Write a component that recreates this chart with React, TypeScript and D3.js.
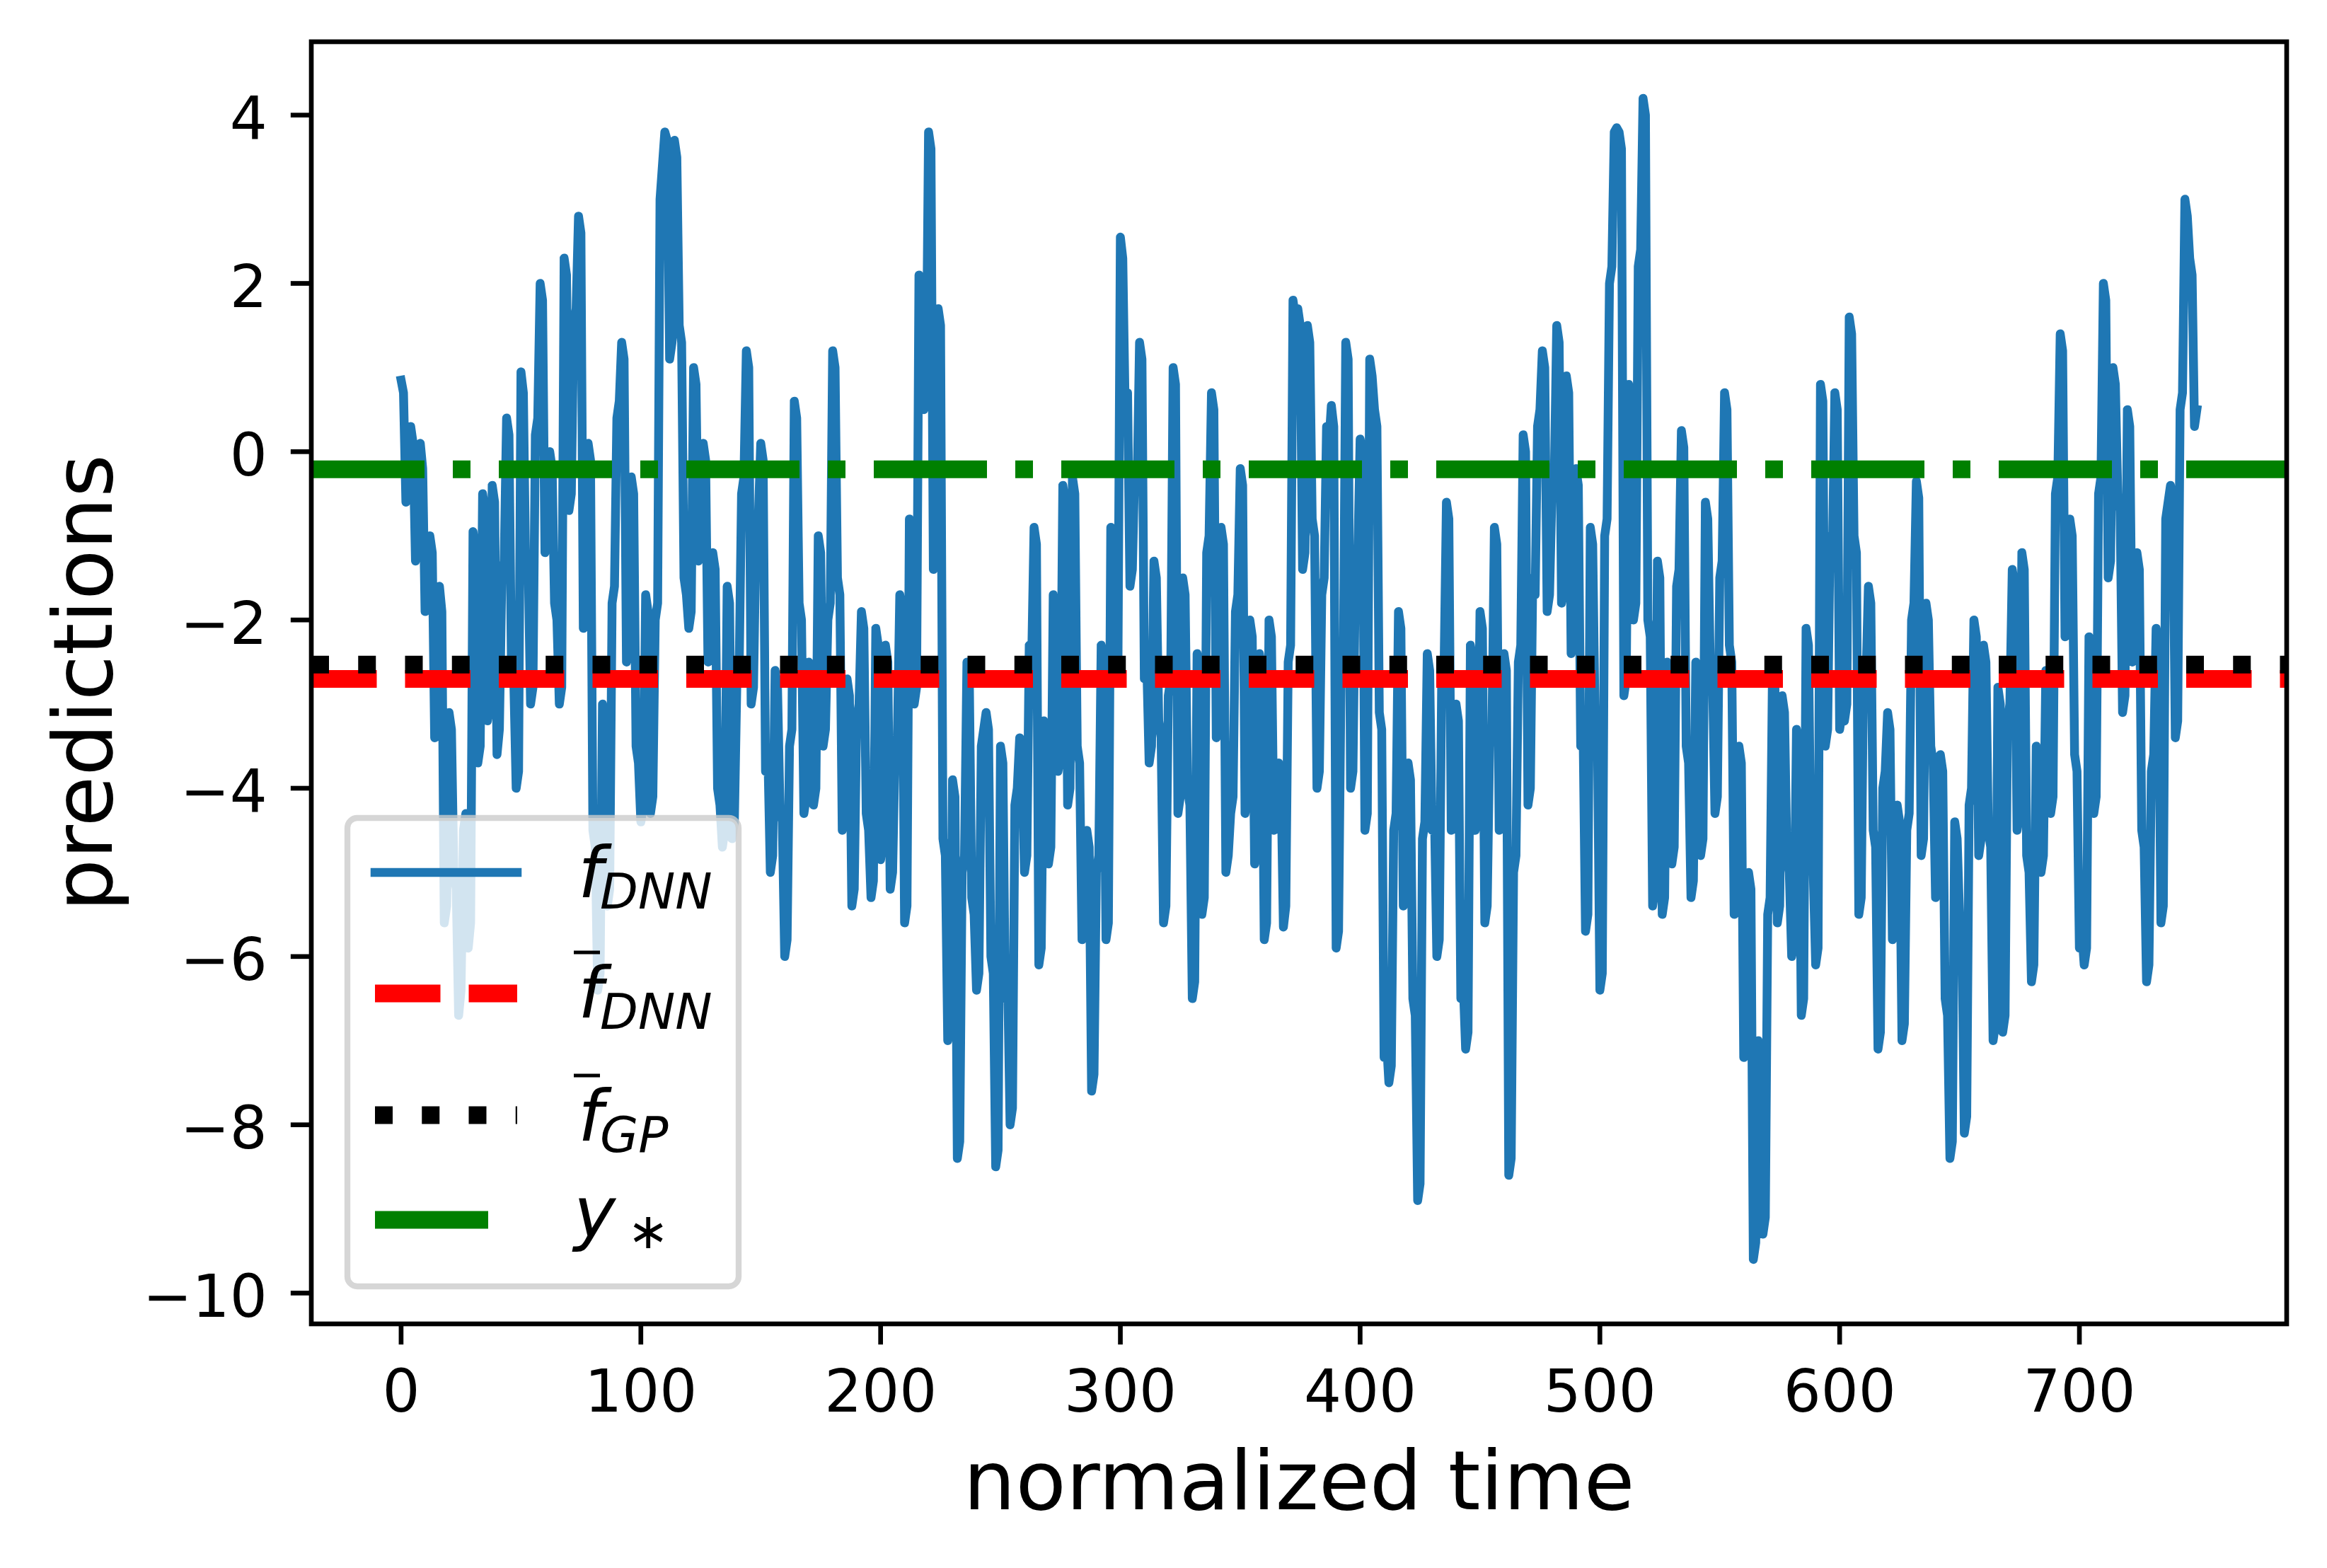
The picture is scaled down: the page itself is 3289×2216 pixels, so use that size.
import React from "react";
import * as d3 from "d3";

// one value per normalized time unit
const fDnn = [
  0.85, 0.7, -0.6, -0.4, 0.3, 0.1, -1.3, -1.1, 0.1, -0.2,
  -1.9, -1.7, -1.0, -1.2, -3.4, -3.2, -1.6, -1.9, -5.6, -5.4,
  -3.1, -3.3, -5.0, -5.2, -6.7, -6.4, -4.5, -4.3, -5.9, -5.6,
  -0.95, -1.2, -3.7, -3.5, -0.5, -0.7, -3.2, -3.0, -0.4, -0.6,
  -3.6, -3.3, -1.5, -1.3, 0.4, 0.2, -2.5, -2.7, -4.0, -3.8,
  0.95, 0.7, -1.5, -1.3, -3.0, -2.8, 0.2, 0.4, 2.0, 1.8,
  -1.2, -1.0, 0.0, -0.2, -1.8, -2.0, -3.0, -2.8, 2.3, 2.1,
  -0.7, -0.5, 1.5, 1.7, 2.8, 2.6, -2.1, -1.9, 0.1, -0.1,
  -4.5, -4.7, -6.4, -6.2, -3.0, -3.2, -5.4, -5.2, -1.8, -1.6,
  0.4, 0.6, 1.3, 1.1, -2.5, -2.3, -0.3, -0.5, -3.5, -3.7,
  -4.4, -4.2, -1.7, -1.9, -4.3, -4.1, -2.0, -1.8, 3.0, 3.4,
  3.8, 3.7, 1.1, 1.3, 3.7, 3.5, 1.5, 1.3, -1.5, -1.7,
  -2.1, -1.9, 1.0, 0.8, -1.3, -1.1, 0.1, -0.1, -2.5, -2.3,
  -1.2, -1.4, -4.0, -4.2, -4.7, -4.5, -1.6, -1.8, -4.6, -4.4,
  -2.8, -2.6, -0.5, -0.3, 1.2, 1.0, -3.0, -2.8, -1.0, -0.8,
  0.1, -0.1, -3.8, -3.6, -5.0, -4.8, -2.6, -2.8, -4.2, -4.4,
  -6.0, -5.8, -3.5, -3.3, 0.6, 0.4, -1.8, -2.0, -4.3, -4.1,
  -2.5, -2.7, -4.2, -4.0, -1.0, -1.2, -3.5, -3.3, -2.0, -1.8,
  1.2, 1.0, -1.5, -1.7, -4.5, -4.3, -2.7, -2.9, -5.4, -5.2,
  -3.2, -3.0, -1.9, -2.1, -4.3, -4.5, -5.3, -5.1, -2.1, -2.3,
  -4.85, -4.6, -2.3, -2.5, -5.2, -5.0, -3.6, -3.4, -1.7, -1.9,
  -5.6, -5.4, -0.8, -1.0, -3.0, -2.8, 2.1, 1.9, 0.5, 0.7,
  3.8, 3.6, -1.4, -1.2, 1.7, 1.5, -4.6, -4.8, -7.0, -6.8,
  -3.9, -4.1, -8.4, -8.2, -5.0, -4.8, -2.5, -2.7, -5.3, -5.5,
  -6.4, -6.2, -3.5, -3.3, -3.1, -3.3, -6.0, -6.2, -8.5, -8.3,
  -3.5, -3.7, -6.5, -6.3, -8.0, -7.8, -4.2, -4.0, -3.4, -3.6,
  -5.0, -4.8, -2.3, -2.5, -0.9, -1.1, -6.1, -5.9, -3.2, -3.4,
  -4.9, -4.7, -1.7, -1.9, -3.8, -3.6, -0.4, -0.6, -4.2, -4.0,
  -0.3, -0.5, -3.5, -3.7, -5.8, -5.6, -4.5, -4.7, -7.6, -7.4,
  -5.0, -4.8, -2.3, -2.5, -5.8, -5.6, -0.9, -1.1, -2.7, -2.5,
  2.55, 2.3, 0.5, 0.7, -1.6, -1.4, -0.2, -0.4, 1.3, 1.1,
  -2.7, -2.5, -3.7, -3.5, -1.3, -1.5, -3.2, -3.4, -5.6, -5.4,
  -2.9, -2.7, 1.0, 0.8, -4.3, -4.1, -1.5, -1.7, -4.0, -4.2,
  -6.5, -6.3, -2.4, -2.6, -5.5, -5.3, -1.2, -1.0, 0.7, 0.5,
  -3.4, -3.2, -0.9, -1.1, -5.0, -4.8, -4.3, -4.1, -1.9, -1.7,
  -0.2, -0.4, -4.3, -4.1, -2.0, -2.2, -4.9, -4.7, -2.4, -2.6,
  -5.8, -5.6, -2.0, -2.2, -4.5, -4.3, -3.7, -3.9, -5.65, -5.4,
  -2.5, -2.3, 1.8, 1.6, 1.7, 1.5, -1.4, -1.2, 1.5, 1.3,
  -0.8, -1.0, -4.0, -3.8, -1.7, -1.5, 0.3, 0.1, 0.55, 0.3,
  -5.9, -5.7, -2.8, -2.6, 1.3, 1.1, -4.0, -3.8, -1.5, -1.3,
  0.15, 0.0, -4.5, -4.3, 1.1, 0.9, 0.5, 0.3, -3.1, -3.3,
  -7.2, -7.0, -7.5, -7.3, -4.5, -4.3, -1.9, -2.1, -5.4, -5.2,
  -3.7, -3.9, -6.5, -6.7, -8.9, -8.7, -4.6, -4.4, -2.4, -2.6,
  -4.5, -4.3, -6.0, -5.8, -2.8, -2.6, -0.6, -0.8, -4.5, -4.3,
  -3.0, -3.2, -6.5, -6.3, -7.1, -6.9, -2.3, -2.5, -4.5, -4.3,
  -1.9, -2.1, -5.6, -5.4, -3.5, -3.3, -0.9, -1.1, -4.5, -4.3,
  -2.4, -2.6, -8.6, -8.4, -5.0, -4.8, -2.5, -2.3, 0.2, 0.0,
  -4.2, -4.0, -1.5, -1.7, 0.3, 0.5, 1.2, 1.0, -1.9, -1.7,
  -0.5, -0.3, 1.5, 1.3, -1.8, -1.6, 0.9, 0.7, -2.4, -2.2,
  -0.2, -0.4, -3.5, -3.3, -5.7, -5.5, -0.9, -1.1, -3.2, -3.4,
  -6.4, -6.2, -1.0, -0.8, 2.0, 2.2, 3.8, 3.85, 3.8, 3.6,
  -2.9, -2.7, 0.8, 0.6, -2.0, -1.8, 2.2, 2.4, 4.2, 4.0,
  -2.0, -2.2, -5.4, -5.2, -1.3, -1.5, -5.5, -5.3, -2.5, -2.7,
  -4.9, -4.7, -1.6, -1.4, 0.25, 0.05, -3.5, -3.7, -5.3, -5.1,
  -2.5, -2.7, -4.8, -4.6, -0.6, -0.8, -2.5, -2.7, -4.3, -4.1,
  -1.5, -1.3, 0.7, 0.5, -2.3, -2.5, -5.5, -5.3, -3.5, -3.7,
  -7.2, -7.0, -5.0, -5.2, -9.6, -9.4, -7.0, -7.2, -9.3, -9.1,
  -5.5, -5.3, -2.6, -2.8, -5.6, -5.4, -2.9, -3.1, -4.8, -5.0,
  -6.0, -5.8, -3.3, -3.5, -6.7, -6.5, -2.1, -2.3, -4.8, -5.0,
  -6.1, -5.9, 0.8, 0.6, -3.5, -3.3, -1.0, -1.2, 0.7, 0.5,
  -3.3, -3.1, -3.2, -3.0, 1.6, 1.4, -1.0, -1.2, -5.5, -5.3,
  -2.5, -2.7, -1.6, -1.8, -4.5, -4.7, -7.1, -6.9, -4.0, -3.8,
  -3.1, -3.3, -5.8, -5.6, -4.2, -4.4, -7.0, -6.8, -4.5, -4.3,
  -2.0, -1.8, -0.35, -0.55, -4.8, -4.6, -1.8, -2.0, -3.5, -3.7,
  -5.3, -5.1, -3.6, -3.8, -6.5, -6.7, -8.4, -8.2, -4.4, -4.6,
  -5.5, -5.7, -8.1, -7.9, -4.2, -4.0, -2.0, -2.2, -4.8, -4.6,
  -2.3, -2.5, -4.5, -4.7, -7.0, -6.8, -2.8, -3.0, -6.9, -6.7,
  -3.2, -3.0, -1.4, -1.6, -4.5, -4.3, -1.2, -1.4, -4.8, -5.0,
  -6.3, -6.1, -3.5, -3.7, -5.0, -4.8, -2.6, -2.8, -4.3, -4.1,
  -0.5, -0.3, 1.4, 1.2, -2.2, -2.0, -0.8, -1.0, -3.6, -3.8,
  -5.9, -5.7, -6.1, -5.9, -2.2, -2.4, -4.3, -4.1, -0.5, -0.3,
  2.0, 1.8, -1.5, -1.3, 1.0, 0.8, -0.5, -0.7, -3.1, -2.9,
  0.5, 0.3, -2.5, -2.3, -1.2, -1.4, -4.5, -4.7, -6.3, -6.1,
  -3.8, -3.6, -2.1, -2.3, -5.6, -5.4, -0.8, -0.6, -0.4, -0.6,
  -3.4, -3.2, 0.5, 0.7, 3.0, 2.8, 2.3, 2.1, 0.3, 0.5,
];

const meanDnn = -2.7;
const meanGp = -2.53;
const yStar = -0.21;

const xTicks = [0, 100, 200, 300, 400, 500, 600, 700];
const yTicks = [-10, -8, -6, -4, -2, 0, 2, 4];

const W = 3289;
const H = 2216;
const PT = 600 / 72;
const FONT = "DejaVu Sans";

const left = 440, right = 3232, top = 59, bottom = 1871;

const x = d3.scaleLinear().domain([-37.45, 786.45]).range([left, right]);
const y = d3.scaleLinear().domain([-10.366, 4.872]).range([bottom, top]);

const line = d3
  .line<number>()
  .x((_, i) => x(i))
  .y((d) => y(d));

const minus = (v: number) => (v < 0 ? "\u2212" + Math.abs(v) : String(v));

const lw = 3 * PT;
const hlines = [
  { v: meanDnn, color: "red", dash: [3.7 * lw, 1.6 * lw], end: 731 },
  { v: meanGp, color: "black", dash: [1 * lw, 1.65 * lw], end: 731 },
  { v: yStar, color: "green", dash: [6.4 * lw, 1.6 * lw, 1 * lw, 1.6 * lw], end: 729 },
];

function Label({ x0, base, main, sub, bar, star }: any) {
  return (
    <g fontFamily={FONT}>
      {bar && <line x1={x0 - 6} x2={x0 + 31} y1={base - 92} y2={base - 92} stroke="black" strokeWidth={5} />}
      <text x={x0} y={base} fontSize={100} fontStyle="italic">{main}</text>
      {star ? (
        <text x={x0 + 76} y={base + 16} fontSize={70}>{"\u2217"}</text>
      ) : (
        <text x={x0 + 31} y={base + 16} fontSize={70} fontStyle="italic">{sub}</text>
      )}
    </g>
  );
}

export default function App() {
  const tick = 3.5 * PT;
  const spine = 0.8 * PT;
  const hx0 = 530;
  return (
    <svg width={W} height={H} style={{ position: "absolute", left: 0, top: 0, background: "white" }}>
      <defs>
        <clipPath id="ax">
          <rect x={left} y={top} width={right - left} height={bottom - top} />
        </clipPath>
      </defs>
      <rect width={W} height={H} fill="white" />
      <g clipPath="url(#ax)">
        <path d={line(fDnn) || ""} fill="none" stroke="#1f77b4" strokeWidth={1.5 * PT} strokeLinejoin="round" strokeLinecap="square" />
        {hlines.map((h) => (
          <line key={h.color} x1={left} x2={right} y1={y(h.v)} y2={y(h.v)} stroke={h.color} strokeWidth={lw} strokeDasharray={h.dash.join(" ")} />
        ))}
      </g>
      <rect x={left} y={top} width={right - left} height={bottom - top} fill="none" stroke="black" strokeWidth={spine} />
      {xTicks.map((t) => (
        <g key={"x" + t}>
          <line x1={x(t)} x2={x(t)} y1={bottom} y2={bottom + tick} stroke="black" strokeWidth={spine} />
          <text x={x(t)} y={1995} fontFamily={FONT} fontSize={10 * PT} textAnchor="middle">{minus(t)}</text>
        </g>
      ))}
      {yTicks.map((t) => (
        <g key={"y" + t}>
          <line x1={left - tick} x2={left} y1={y(t)} y2={y(t)} stroke="black" strokeWidth={spine} />
          <text x={left - 2 * tick - 4} y={y(t) + 33.5} fontFamily={FONT} fontSize={10 * PT} textAnchor="end">{minus(t)}</text>
        </g>
      ))}
      <text x={(left + right) / 2} y={2133} fontFamily={FONT} fontSize={14 * PT} textAnchor="middle">normalized time</text>
      <text transform={`translate(158,${(top + bottom) / 2}) rotate(-90)`} fontFamily={FONT} fontSize={14 * PT} textAnchor="middle">predictions</text>

      <g>
        <rect x={491} y={1156} width={553} height={662} rx={14} fill="white" fillOpacity={0.8} stroke="#cccccc" strokeOpacity={0.8} strokeWidth={PT} />
        <line x1={hx0} x2={731} y1={1233} y2={1233} stroke="#1f77b4" strokeWidth={1.5 * PT} strokeLinecap="square" />
        {hlines.map((h, i) => {
          const yy = [1404, 1576, 1724][i];
          return <line key={"l" + h.color} x1={hx0} x2={h.end} y1={yy} y2={yy} stroke={h.color} strokeWidth={lw} strokeDasharray={h.dash.join(" ")} />;
        })}
        <Label x0={817} base={1268} main="f" sub="DNN" />
        <Label x0={817} base={1438} main="f" sub="DNN" bar />
        <Label x0={817} base={1612} main="f" sub="GP" bar />
        <Label x0={811} base={1748} main="y" star />
      </g>
    </svg>
  );
}
